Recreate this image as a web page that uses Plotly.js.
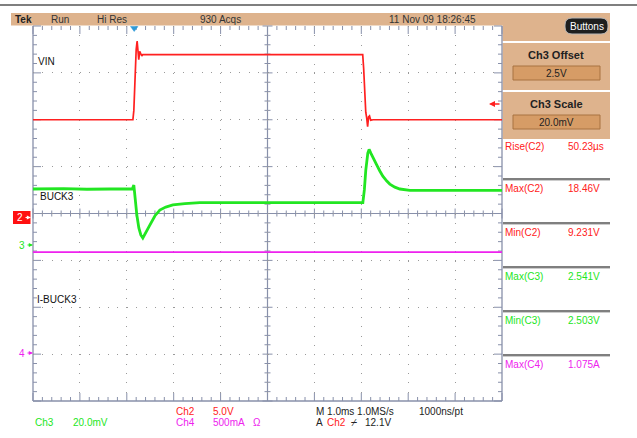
<!DOCTYPE html>
<html><head><meta charset="utf-8">
<script src="https://cdn.plot.ly/plotly-3.0.1.min.js"></script>
<style>html,body{margin:0;padding:0;background:#fff;}#chart{width:637px;height:438px;}</style>
</head><body><div id="chart"></div>
<script>
// ---- data (time in ms relative to trigger) ----
const ch2Time  = [-2.15, -0.02, 0.0, 0.02, 0.05, 0.07, 0.085, 0.105, 0.125, 0.15, 0.17, 0.19, 4.88, 4.90, 4.92, 4.945, 4.965, 4.985, 5.005, 5.025, 5.05, 5.10, 7.85];
const ch2Volts = [10.0, 10.0, 11.0, 14.5, 17.5, 18.4, 17.2, 16.4, 17.3, 17.1, 16.8, 16.95, 16.95, 15.5, 13.0, 10.8, 10.2, 9.25, 10.3, 10.4, 9.95, 10.0, 10.0];

const ch3Time  = [-2.15, -1.5, -1.0, -0.5, -0.03, 0.0, 0.021, 0.064, 0.107, 0.149, 0.192, 0.256, 0.341, 0.448, 0.554, 0.682, 0.832, 1.087, 1.407, 2.687, 4.883, 4.915, 4.946, 4.989, 5.017, 5.053, 5.117, 5.181, 5.245, 5.309, 5.394, 5.458, 5.565, 5.672, 5.885, 7.85];
const ch3Volts = [2.5239, 2.5241, 2.5238, 2.5240, 2.5240, 2.5256, 2.5213, 2.5128, 2.5073, 2.5043, 2.5030, 2.5051, 2.5085, 2.5124, 2.5149, 2.5162, 2.5171, 2.5177, 2.5181, 2.5181, 2.5181, 2.5235, 2.5320, 2.5392, 2.5408, 2.5392, 2.5363, 2.5341, 2.5316, 2.5294, 2.5273, 2.5260, 2.5247, 2.5239, 2.5233, 2.5233];

const ch4Time = [-2.15, 7.85];
const ch4Amps = [1.075, 1.075];

const traceLabels = ["VIN", "BUCK3", "I-BUCK3"];
const measNames  = ["Rise(C2)", "Max(C2)", "Min(C2)", "Max(C3)", "Min(C3)", "Max(C4)"];
const measValues = ["50.23µs", "18.46V", "9.231V", "2.541V", "2.503V", "1.075A"];
const headerTexts = ["Tek", "Run", "Hi Res", "930 Acqs", "11 Nov 09 18:26:45"];

// ---- geometry helpers (pixel -> paper) ----
const L = 33, R = 502, T = 26, B = 401;
const W = R - L, H = B - T;
const PX = x => (x - L) / W;
const PY = y => (B - y) / H;

const RED = '#ff2020', GREEN = '#22e622', MAG = '#ee22ee', GRAT = '#8890aa';
const FONT = 'Liberation Sans, Arial, sans-serif';

const shapes = [];
function line(x0, y0, x1, y1, color, width, layer) {
  shapes.push({type: 'line', xref: 'paper', yref: 'paper', x0: PX(x0), y0: PY(y0), x1: PX(x1), y1: PY(y1),
    line: {color: color, width: width || 1}, layer: layer || 'below'});
}
function rect(x0, y0, x1, y1, fill, lineColor, lw, layer) {
  shapes.push({type: 'rect', xref: 'paper', yref: 'paper', x0: PX(x0), y0: PY(y0), x1: PX(x1), y1: PY(y1),
    fillcolor: fill, line: {color: lineColor || fill, width: lw === undefined ? 0 : lw}, layer: layer || 'below'});
}

// top black rule
line(0, 5, 637, 5, '#000', 1.2, 'above');
// header band
rect(11, 13, 610, 25.5, '#deb38d');
// right panel
rect(502.5, 25, 610, 41, '#deb38d');
rect(502.5, 43, 610, 90, '#deb38d');
rect(502.5, 92, 610, 139, '#deb38d');
rect(513, 66, 600, 80, '#d69c66', '#a87240', 1);
rect(513, 115, 600, 129, '#d69c66', '#a87240', 1);
// Buttons pill
shapes.push({type: 'path', xref: 'paper', yref: 'paper', layer: 'above',
  path: (function () {
    const x0 = 565, x1 = 608, y0 = 18, y1 = 34, r = 7;
    const p = (x, y) => PX(x) + ',' + PY(y);
    return 'M' + p(x0 + r, y0) + ' L' + p(x1 - r, y0) + ' Q' + p(x1, y0) + ' ' + p(x1, y0 + r) +
      ' L' + p(x1, y1 - r) + ' Q' + p(x1, y1) + ' ' + p(x1 - r, y1) + ' L' + p(x0 + r, y1) +
      ' Q' + p(x0, y1) + ' ' + p(x0, y1 - r) + ' L' + p(x0, y0 + r) + ' Q' + p(x0, y0) + ' ' + p(x0 + r, y0) + ' Z';
  })(),
  fillcolor: '#1e1e1e', line: {color: '#b8b8b8', width: 1}});
// measurement separators
[179, 223, 267, 311, 355].forEach(y => {
  line(503, y, 610, y, '#555', 1.3, 'above');
  line(503, y + 1.5, 610, y + 1.5, '#ccc', 1, 'above');
});

// graticule frame
line(L, T, L, B, GRAT, 1.3);
line(R, T, R, B, GRAT, 1.3);
line(L, B, R, B, GRAT, 1.3);
const cx = (L + R) / 2, cy = (T + B) / 2;
line(L, cy, R, cy, GRAT, 1.2);
line(cx, T, cx, B, GRAT, 1.2);
for (let i = 0; i <= 50; i++) {
  const x = L + i * W / 50, major = i % 5 === 0;
  const len = major ? 8 : 4, h = major ? 5 : 3;
  line(x, T, x, T + len, GRAT, 1);
  line(x, B, x, B - len, GRAT, 1);
  line(x, cy - h, x, cy + h, GRAT, 1);
}
for (let j = 0; j <= 40; j++) {
  const y = T + j * H / 40, major = j % 5 === 0;
  const len = major ? 8 : 4, h = major ? 5 : 3;
  line(L, y, L + len, y, GRAT, 1);
  line(R, y, R - len, y, GRAT, 1);
  line(cx - h, y, cx + h, y, GRAT, 1);
}
// trigger position marker
shapes.push({type: 'path', xref: 'paper', yref: 'paper', layer: 'above',
  path: 'M' + PX(130.5) + ',' + PY(26.5) + ' L' + PX(138) + ',' + PY(26.5) + ' L' + PX(134.2) + ',' + PY(31.5) + ' Z',
  fillcolor: '#2f9ad8', line: {color: '#2f9ad8', width: 0.5}});
// channel 2 marker box
rect(13, 211, 30.5, 224, '#ff1010', '#ff1010', 0, 'above');

// ---- annotations ----
const ann = [];
function txt(x, y, text, color, size, extra) {
  ann.push(Object.assign({xref: 'paper', yref: 'paper', x: PX(x), y: PY(y), text: text, showarrow: false,
    xanchor: 'left', yanchor: 'middle', font: {family: FONT, size: size || 10, color: color || '#000'}}, extra || {}));
}
const hx = [13, 49, 95, 198, 387];
headerTexts.forEach((t, i) => txt(hx[i], 19.5, i === 0 ? '<b>' + t + '</b>' : t, i === 0 ? '#222' : '#333', 10));
txt(586.5, 26, 'Buttons', '#fff', 10, {xanchor: 'center'});
txt(556, 55, '<b>Ch3 Offset</b>', '#222', 11, {xanchor: 'center'});
txt(556.5, 73.5, '2.5V', '#222', 10, {xanchor: 'center'});
txt(556, 104, '<b>Ch3 Scale</b>', '#222', 11, {xanchor: 'center'});
txt(556.5, 122.5, '20.0mV', '#222', 10, {xanchor: 'center'});

const measY = [146, 188, 232, 276, 320, 364];
const measC = [RED, RED, RED, GREEN, GREEN, MAG];
measNames.forEach((n, i) => {
  txt(503, measY[i], n, measC[i], 10);
  txt(566, measY[i], measValues[i], measC[i], 10);
});

txt(36, 62, traceLabels[0], '#111', 10);
txt(38, 196, traceLabels[1], '#111', 10);
txt(35, 299, traceLabels[2], '#111', 10);

// channel markers: number + small arrow
function chanMarker(x, y, label, color) {
  txt(x, y, label, color, 10);
  ann.push({xref: 'paper', yref: 'paper', x: PX(x + 16), y: PY(y), ax: -7, ay: 0, text: '', showarrow: true,
    arrowhead: 2, arrowsize: 0.7, arrowwidth: 1.2, arrowcolor: color});
}
chanMarker(15, 217.5, '2', '#fff');
chanMarker(17, 245, '3', GREEN);
chanMarker(17, 353, '4', MAG);

// right side red arrow
ann.push({xref: 'paper', yref: 'paper', x: PX(489), y: PY(104), ax: 12, ay: 0, text: '', showarrow: true,
  arrowhead: 2, arrowsize: 0.8, arrowwidth: 1.5, arrowcolor: RED});

// bottom readouts
txt(33, 422, 'Ch3', GREEN, 10);
txt(71, 422, '20.0mV', GREEN, 10);
txt(174, 411, 'Ch2', RED, 10);
txt(211, 411, '5.0V', RED, 10);
txt(174, 422, 'Ch4', MAG, 10);
txt(211, 422, '500mA', MAG, 10);
txt(251, 422, 'Ω', MAG, 10);
txt(314, 411, 'M 1.0ms 1.0MS/s', '#222', 10);
txt(417, 411, '1000ns/pt', '#222', 10);
txt(314, 422, 'A', '#222', 10);
txt(325, 422, 'Ch2', RED, 10);
txt(349, 422, '⌿', '#222', 10);
txt(363, 422, '12.1V', '#222', 10);

// ---- traces ----
const data = [
  {x: ch4Time, y: ch4Amps, yaxis: 'y3', mode: 'lines', line: {color: MAG, width: 1.8}, hoverinfo: 'skip'},
  {x: ch2Time, y: ch2Volts, yaxis: 'y', mode: 'lines', line: {color: RED, width: 1.7}, hoverinfo: 'skip'},
  {x: ch3Time, y: ch3Volts, yaxis: 'y2', mode: 'lines', line: {color: GREEN, width: 2.8}, hoverinfo: 'skip'}
];

const ch3Center = 2.51345, ch3PerDiv = 0.02;
const ch4Center = 1.488, ch4PerDiv = 0.5;
const layout = {
  width: 637, height: 438,
  margin: {l: L, r: 637 - R, t: T, b: 438 - B, pad: 0},
  paper_bgcolor: '#fff', plot_bgcolor: '#fff',
  showlegend: false,
  xaxis: {range: [-2.15, 7.85], tick0: -2.15, dtick: 1, showgrid: true, gridcolor: '#9a9a9a', gridwidth: 1,
    griddash: '1px,8.38px', zeroline: false, showticklabels: false, ticks: '', showline: false, fixedrange: true},
  yaxis: {range: [-20, 20], tick0: -20, dtick: 5, showgrid: true, gridcolor: '#9a9a9a', gridwidth: 1,
    griddash: '1px,8.38px', zeroline: false, showticklabels: false, ticks: '', showline: false, fixedrange: true},
  yaxis2: {overlaying: 'y', range: [ch3Center - 4 * ch3PerDiv, ch3Center + 4 * ch3PerDiv], visible: false, fixedrange: true},
  yaxis3: {overlaying: 'y', range: [ch4Center - 4 * ch4PerDiv, ch4Center + 4 * ch4PerDiv], visible: false, fixedrange: true},
  shapes: shapes,
  annotations: ann
};
Plotly.newPlot('chart', data, layout, {staticPlot: true, displayModeBar: false});
</script>
</body></html>
